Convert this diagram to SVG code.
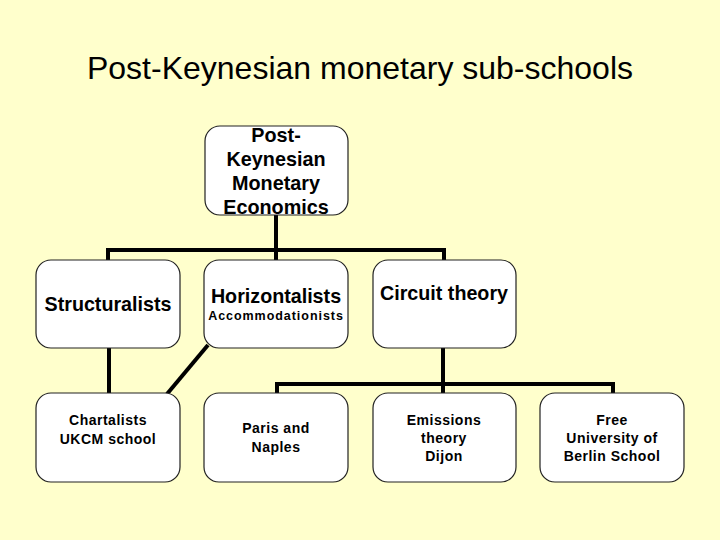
<svg xmlns="http://www.w3.org/2000/svg" width="720" height="540" viewBox="0 0 720 540">
<style>
.box{fill:#fff;stroke:#222;stroke-width:1.2}
.con{stroke:#000;stroke-width:4;fill:none}
text{font-family:"Liberation Sans",Arial,sans-serif;text-anchor:middle;fill:#000}
.t{font-size:32px}
.b{font-weight:bold}
.s{font-size:14px;font-weight:bold;letter-spacing:0.5px}
</style>
<rect width="720" height="540" fill="#FFFFCC"/>
<text class="t" x="360" y="79">Post-Keynesian monetary sub-schools</text>
<g id="connectors">
<path class="con" d="M276 215V250M108 260V250H444V260M276 250V260"/>
<path class="con" d="M109 348V393"/>
<path class="con" d="M208 345L167 394"/>
<path class="con" d="M443 348V384M277 393V384H613V393M443 384V393"/>
</g>
<g id="root"><rect class="box" x="205" y="126" width="143" height="89" rx="15"/>
<text class="b" font-size="19.8" x="276" y="142">Post-</text>
<text class="b" font-size="19.8" x="276" y="166">Keynesian</text>
<text class="b" font-size="19.8" x="276" y="190">Monetary</text>
<text class="b" font-size="19.8" x="276" y="214">Economics</text></g>
<g id="structuralists"><rect class="box" x="36" y="260" width="144" height="88" rx="15"/>
<text class="b" font-size="19.7" x="108" y="311">Structuralists</text></g>
<g id="horizontalists"><rect class="box" x="204" y="260" width="144" height="88" rx="15"/>
<text class="b" font-size="19.7" x="276" y="303">Horizontalists</text>
<text class="b" font-size="12.5" letter-spacing="0.95" x="276" y="320">Accommodationists</text></g>
<g id="circuit"><rect class="box" x="373" y="260" width="143" height="88" rx="15"/>
<text class="b" font-size="19.7" x="444" y="300">Circuit theory</text></g>
<g id="chartalists"><rect class="box" x="36" y="393" width="144" height="89" rx="15"/>
<text class="s" x="108" y="425" letter-spacing="0.35">Chartalists</text>
<text class="s" x="108" y="444">UKCM school</text></g>
<g id="paris"><rect class="box" x="204" y="393" width="144" height="89" rx="15"/>
<text class="s" x="276" y="433">Paris and</text>
<text class="s" x="276" y="452">Naples</text></g>
<g id="emissions"><rect class="box" x="373" y="393" width="143" height="89" rx="15"/>
<text class="s" x="444" y="425">Emissions</text>
<text class="s" x="444" y="443">theory</text>
<text class="s" x="444" y="461">Dijon</text></g>
<g id="berlin"><rect class="box" x="540" y="393" width="144" height="89" rx="15"/>
<text class="s" x="612" y="425">Free</text>
<text class="s" x="612" y="443">University of</text>
<text class="s" x="612" y="461">Berlin School</text></g>
</svg>
